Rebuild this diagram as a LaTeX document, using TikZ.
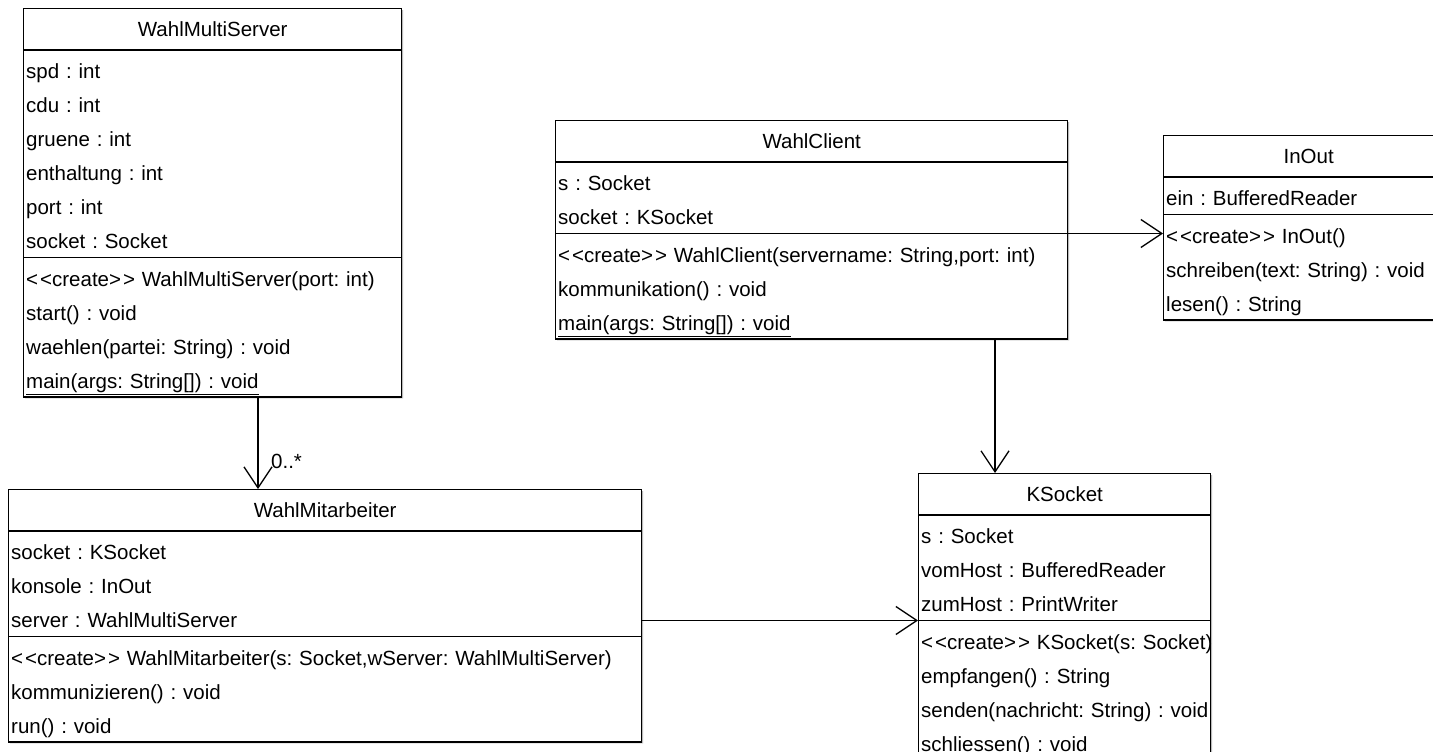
\documentclass[tikz,border=0pt]{standalone}
\usepackage{fontspec}
\setmainfont{Liberation Sans}
\usetikzlibrary{shapes.multipart, arrows.meta, shadows}
\newcommand{\rowstrut}{\rule[-7pt]{0pt}{34pt}}
\newcommand{\headstrut}{\rule[-12pt]{0pt}{38pt}}
\newcommand{\umlrow}[1]{\mbox{\rowstrut#1}}
\newcommand{\umlhead}[1]{\hfill\headstrut#1\hfill\null}
\newcommand{\umlcreate}{<\kern2pt<create>\kern2pt>}
\tikzstyle{umlclass} = [rectangle split, rectangle split parts=3, anchor=north west, draw=black, line width=1.4pt, fill=white, inner xsep=2.5pt, inner ysep=1pt, align=left, font=\fontsize{20.5}{34}\selectfont\frenchspacing, drop shadow={shadow xshift=1.5pt, shadow yshift=-1.5pt, fill=black!45, opacity=0.6}]
\tikzstyle{assoc} = [line width=1.3pt, -{Straight Barb[length=21pt, width=28pt]}]
\begin{document}
\begin{tikzpicture}[x=1pt, y=-1pt]
\useasboundingbox (0,0) rectangle (1433,752);
\fill[white] (0,0) rectangle (1433,752);
\clip (0,0) rectangle (1433,752);

\node (wms) [umlclass, text width=373pt] at (23,8) {\umlhead{WahlMultiServer}
\nodepart{two}\umlrow{spd : int}\\
\umlrow{cdu : int}\\
\umlrow{gruene : int}\\
\umlrow{enthaltung : int}\\
\umlrow{port : int}\\
\umlrow{socket : Socket}
\nodepart{three}\umlrow{\umlcreate{} WahlMultiServer(port: int)}\\
\umlrow{start() : void}\\
\umlrow{waehlen(partei: String) : void}\\
\umlrow{\underline{main(args: String[]) : void}}};

\node (wc) [umlclass, text width=507pt] at (555,120) {\umlhead{WahlClient}
\nodepart{two}\umlrow{s : Socket}\\
\umlrow{socket : KSocket}
\nodepart{three}\umlrow{\umlcreate{} WahlClient(servername: String,port: int)}\\
\umlrow{kommunikation() : void}\\
\umlrow{\underline{main(args: String[]) : void}}};

\node (io) [umlclass, text width=285pt] at (1163,135) {\umlhead{InOut}
\nodepart{two}\umlrow{ein : BufferedReader}
\nodepart{three}\umlrow{\umlcreate{} InOut()}\\
\umlrow{schreiben(text: String) : void}\\
\umlrow{lesen() : String}};

\node (wma) [umlclass, text width=628pt] at (8,489) {\umlhead{WahlMitarbeiter}
\nodepart{two}\umlrow{socket : KSocket}\\
\umlrow{konsole : InOut}\\
\umlrow{server : WahlMultiServer}
\nodepart{three}\umlrow{\umlcreate{} WahlMitarbeiter(s: Socket,wServer: WahlMultiServer)}\\
\umlrow{kommunizieren() : void}\\
\umlrow{run() : void}};

\node (ks) [umlclass, text width=287pt] at (918,473) {\umlhead{KSocket}
\nodepart{two}\umlrow{s : Socket}\\
\umlrow{vomHost : BufferedReader}\\
\umlrow{zumHost : PrintWriter}
\nodepart{three}\umlrow{\umlcreate{} KSocket(s: Socket)}\\
\umlrow{empfangen() : String}\\
\umlrow{senden(nachricht: String) : void}\\
\umlrow{schliessen() : void}};

\coordinate (wmsdown) at ([xshift=235pt]wms.south west);
\coordinate (wmain) at (wmsdown |- wma.north);
\coordinate (kstop) at ([xshift=77pt]ks.north west);

\draw[assoc] (wmsdown) -- (wmain);
\node (mult) [anchor=base west, inner sep=0pt, font=\fontsize{20.5}{24}\selectfont] at ([xshift=13pt, yshift=21pt]wmain) {0..*};
\draw[assoc] (wc.south -| kstop) -- (kstop);
\draw[assoc] (wc.two split east) -- (wc.two split east -| io.west);
\draw[assoc] (wma.east |- ks.two split west) -- (ks.two split west);
\end{tikzpicture}
\end{document}
